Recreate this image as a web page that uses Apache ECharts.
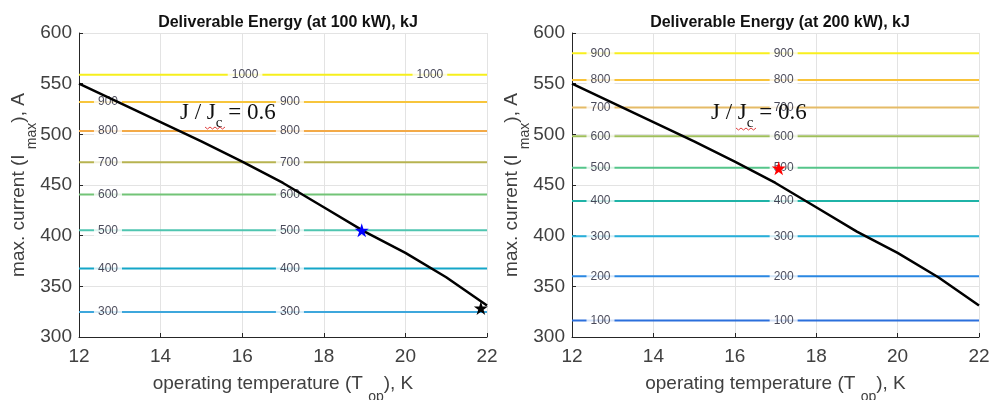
<!DOCTYPE html>
<html>
<head>
<meta charset="utf-8">
<script src="https://cdn.jsdelivr.net/npm/echarts@6/dist/echarts.min.js"></script>
<style>
  html, body { margin: 0; padding: 0; background: #fff; }
  #chart { width: 989px; height: 400px; }
</style>
</head>
<body>
<div id="chart"></div>
<script>
// Operating temperature grid (K) and the J/Jc = 0.6 current limit (A)
const tempK = [12, 13, 14, 15, 16, 17, 18, 19, 20, 21, 22];
const jc06Current = [550, 531, 512, 493, 473, 452, 428, 404, 383, 359, 331];

// Deliverable energy contours at 100 kW: energy level (kJ) -> current (A)
const energy100 = [300, 400, 500, 600, 700, 800, 900, 1000];
const current100 = [324.6, 367.5, 405.3, 440.6, 472.5, 503.2, 531.8, 558.8];
const colors100 = ['#3ea7dc', '#14a6c8', '#4fc5b0', '#72c477', '#b7b350', '#f3aa48', '#f7c53c', '#f6ef1c'];
const labelT100 = [12.71, 17.17];
const labelT100Top = [16.07, 20.6];   // the 1000 kJ contour is labelled elsewhere

// Deliverable energy contours at 200 kW
const energy200 = [100, 200, 300, 400, 500, 600, 700, 800, 900];
const current200 = [316.4, 360.0, 399.4, 434.3, 467.0, 498.0, 526.6, 553.6, 580.0];
const colors200 = ['#2b6fdc', '#2a87e2', '#26afdb', '#1fb3a7', '#55c58a', '#9fbf5b', '#e5bb67', '#f8c339', '#f8ef1e'];
const labelT200 = [12.7, 17.2];

// Operating points
const point100 = [18.93, 405.3];
const pointEnd = [21.85, 328.5];
const point200 = [17.08, 466.5];

// Axis ticks
const xTicks = { min: 12, max: 22, interval: 2 };
const yTicks = { min: 300, max: 600, interval: 50 };

const STAR = 'path://M50 0L61.2 34.5L97.6 34.5L68.2 55.9L79.4 90.5L50 69.1L20.6 90.5L31.8 55.9L2.4 34.5L38.8 34.5Z';
const SANS = 'Arial, "Liberation Sans", Helvetica, sans-serif';
const SERIF = '"Times New Roman", "Liberation Serif", serif';

const grids = [
  { left: 79, top: 33, width: 408, height: 304, outerBoundsMode: 'none', containLabel: false },
  { left: 572, top: 33, width: 407, height: 304, outerBoundsMode: 'none', containLabel: false }
];

function xAxisFor(i) {
  return {
    type: 'value', gridIndex: i,
    min: xTicks.min, max: xTicks.max, interval: xTicks.interval,
    name: '{a|operating temperature (T }{s|op}{a|), K}',
    nameLocation: 'middle', nameGap: 37, nameMoveOverlap: false,
    nameTextStyle: {
      rich: {
        a: { fontFamily: SANS, fontSize: 19, color: '#404040', lineHeight: 30, verticalAlign: 'top' },
        s: { fontFamily: SANS, fontSize: 14, color: '#404040', lineHeight: 30, verticalAlign: 'bottom' }
      }
    },
    axisLine: { show: true, onZero: false, lineStyle: { color: '#262626', width: 1 } },
    axisTick: { show: true, inside: true, length: 4, lineStyle: { color: '#262626' } },
    axisLabel: { fontFamily: SANS, fontSize: 19, color: '#404040', margin: 10 },
    splitLine: { show: true, lineStyle: { color: '#e3e3e3', width: 1 } }
  };
}

function yAxisFor(i) {
  return {
    type: 'value', gridIndex: i,
    min: yTicks.min, max: yTicks.max, interval: yTicks.interval,
    name: '{a|max. current (I }{s|max}{a|), A}',
    nameLocation: 'middle', nameGap: 40, nameMoveOverlap: false,
    nameTextStyle: {
      rich: {
        a: { fontFamily: SANS, fontSize: 19, color: '#404040', lineHeight: 30, verticalAlign: 'top' },
        s: { fontFamily: SANS, fontSize: 14, color: '#404040', lineHeight: 30, verticalAlign: 'bottom' }
      }
    },
    axisLine: { show: true, onZero: false, lineStyle: { color: '#262626', width: 1 } },
    axisTick: { show: true, inside: true, length: 4, lineStyle: { color: '#262626' } },
    axisLabel: { fontFamily: SANS, fontSize: 19, color: '#404040', margin: 7 },
    splitLine: { show: true, lineStyle: { color: '#e3e3e3', width: 1 } }
  };
}

const series = [];

function addContours(gi, levels, currents, colors, labelTs, special) {
  levels.forEach(function (lvl, k) {
    series.push({
      type: 'line', xAxisIndex: gi, yAxisIndex: gi,
      data: [[xTicks.min, currents[k]], [xTicks.max, currents[k]]],
      symbol: 'none', silent: true, z: 2,
      lineStyle: { color: colors[k], width: 2 }
    });
    const ts = (special && special[lvl]) ? special[lvl] : labelTs;
    series.push({
      type: 'scatter', xAxisIndex: gi, yAxisIndex: gi,
      data: ts.map(function (t) { return [t, currents[k], lvl]; }),
      symbolSize: 1, itemStyle: { color: 'rgba(0,0,0,0)' }, silent: true, z: 3,
      label: {
        show: true, position: 'inside',
        formatter: function (p) { return String(p.value[2]); },
        fontFamily: SANS, fontSize: 12, color: '#1c1c30',
        backgroundColor: '#ffffff', padding: [1, 4, 0, 4]
      }
    });
  });
}

addContours(0, energy100, current100, colors100, labelT100, { 1000: labelT100Top });
addContours(1, energy200, current200, colors200, labelT200, null);

[0, 1].forEach(function (gi) {
  series.push({
    type: 'line', xAxisIndex: gi, yAxisIndex: gi,
    data: tempK.map(function (t, k) { return [t, jc06Current[k]]; }),
    symbol: 'none', silent: true, z: 4,
    lineStyle: { color: '#000000', width: 2.5 }
  });
});

function starSeries(gi, pt, color) {
  return {
    type: 'scatter', xAxisIndex: gi, yAxisIndex: gi,
    data: [pt], symbol: STAR, symbolSize: 14, silent: true, z: 5,
    itemStyle: { color: color, opacity: 1 }
  };
}
series.push(starSeries(0, point100, '#0000ff'));
series.push(starSeries(0, pointEnd, '#000000'));
series.push(starSeries(1, point200, '#ff0000'));

// J / Jc annotation with the wavy underline beneath the subscript
function ratioText(x) {
  return {
    type: 'text', left: x, top: 101, z: 100,
    style: {
      text: '{a|J / J}{s|c}{a| = 0.6}',
      rich: {
        a: { fontFamily: SERIF, fontSize: 23, fill: '#111', lineHeight: 30, verticalAlign: 'top' },
        s: { fontFamily: SERIF, fontSize: 15, fill: '#111', lineHeight: 30, verticalAlign: 'bottom' }
      }
    }
  };
}
function squiggle(x0, y0) {
  const pts = [];
  for (let i = 0; i <= 8; i++) pts.push([x0 + i * 2.5, y0 + (i % 2 ? 2 : 0)]);
  return { type: 'polyline', z: 101, shape: { points: pts }, style: { stroke: '#e04040', lineWidth: 1, fill: null } };
}

const option = {
  backgroundColor: '#ffffff',
  animation: false,
  title: [
    { text: 'Deliverable Energy (at 100 kW), kJ', left: 283, top: 10, textAlign: 'center',
      textStyle: { fontFamily: SANS, fontSize: 16, fontWeight: 'bold', color: '#111' } },
    { text: 'Deliverable Energy (at 200 kW), kJ', left: 775, top: 10, textAlign: 'center',
      textStyle: { fontFamily: SANS, fontSize: 16, fontWeight: 'bold', color: '#111' } }
  ],
  grid: grids,
  xAxis: [xAxisFor(0), xAxisFor(1)],
  yAxis: [yAxisFor(0), yAxisFor(1)],
  series: series,
  graphic: [ratioText(180), ratioText(711), squiggle(205, 127), squiggle(736, 128)]
};

const chart = echarts.init(document.getElementById('chart'), null, { renderer: 'canvas' });
chart.setOption(option);
</script>
</body>
</html>
